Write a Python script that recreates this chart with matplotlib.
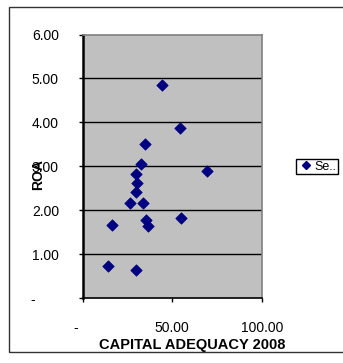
import matplotlib
matplotlib.use("Agg")
import matplotlib.pyplot as plt
from matplotlib.patches import Rectangle
from matplotlib.lines import Line2D

plt.rcParams['font.family'] = ['Liberation Sans', 'DejaVu Sans']

# Capital adequacy (x) vs. return on assets (y), 2008
capital_adequacy = [44.2, 54.2, 34.8, 32.4, 69.1, 29.8, 30.5, 29.7,
                    26.7, 33.5, 55.0, 16.5, 35.4, 36.7, 14.1, 29.6]
roa = [4.86, 3.87, 3.52, 3.05, 2.89, 2.82, 2.62, 2.42,
       2.17, 2.17, 1.83, 1.67, 1.77, 1.64, 0.73, 0.64]

x_ticks = [0, 50, 100]
x_tick_labels = ["-   ", "50.00", "100.00"]
y_ticks = [0, 1, 2, 3, 4, 5, 6]
y_tick_labels = ["-      ", "1.00", "2.00", "3.00", "4.00", "5.00", "6.00"]

W, H = 343, 363
fig = plt.figure(figsize=(W / 100, H / 100), dpi=100)
fig.patch.set_facecolor("white")

left, right, top, bottom = 82.5, 262.0, 34.5, 298.3
ax = fig.add_axes([left / W, 1 - bottom / H, (right - left) / W, (bottom - top) / H])
ax.set_facecolor("#C0C0C0")

ax.scatter(capital_adequacy, roa, marker="D", s=34, color="#000080",
           edgecolors="#000080", linewidths=0.5, zorder=3, label="Se..")

ax.set_xlim(0, 100)
ax.set_ylim(0, 6)
for yv in y_ticks[1:-1]:
    ax.axhline(yv, color="black", lw=1.0, zorder=1)

ax.set_xticks(x_ticks)
ax.set_xticklabels(x_tick_labels)
ax.set_yticks(y_ticks)
ax.set_yticklabels(y_tick_labels)
ax.tick_params(axis="y", direction="out", length=3, width=1, pad=14,
               labelsize=10, colors="black")
ax.tick_params(axis="x", direction="out", length=3, width=1, pad=13,
               labelsize=10, colors="black")

ax.spines["left"].set_color("black")
ax.spines["left"].set_linewidth(1.8)
ax.spines["bottom"].set_color("black")
ax.spines["bottom"].set_linewidth(1.2)
ax.spines["top"].set_color("#808080")
ax.spines["right"].set_color("#808080")
ax.spines["top"].set_linewidth(1.2)
ax.spines["right"].set_linewidth(1.2)

fig.text(192 / W, 1 - 344.5 / H, "CAPITAL ADEQUACY 2008", ha="center",
         va="center", fontsize=10.5, fontweight="bold")
fig.text(38 / W, 1 - 175 / H, "ROA", ha="center", va="center",
         rotation=90, fontsize=10, fontweight="bold")

# chart border
fig.patches.append(Rectangle((9 / W, 1 - 352 / H), 1.0, (352 - 7) / H,
                             transform=fig.transFigure, fill=False,
                             edgecolor="#333333", lw=1.0))

# legend box
handle = Line2D([], [], marker="D", color="#000080", linestyle="none",
                markersize=4)
fig.legend([handle], ["Se.."], loc="center left",
           bbox_to_anchor=(295.5 / W, 1 - 166.5 / H), fontsize=9,
           frameon=True, fancybox=False, edgecolor="black",
           handlelength=1.3, handletextpad=0.05, borderpad=0.15,
           borderaxespad=0, framealpha=1)

fig.savefig("out.png", dpi=100)
